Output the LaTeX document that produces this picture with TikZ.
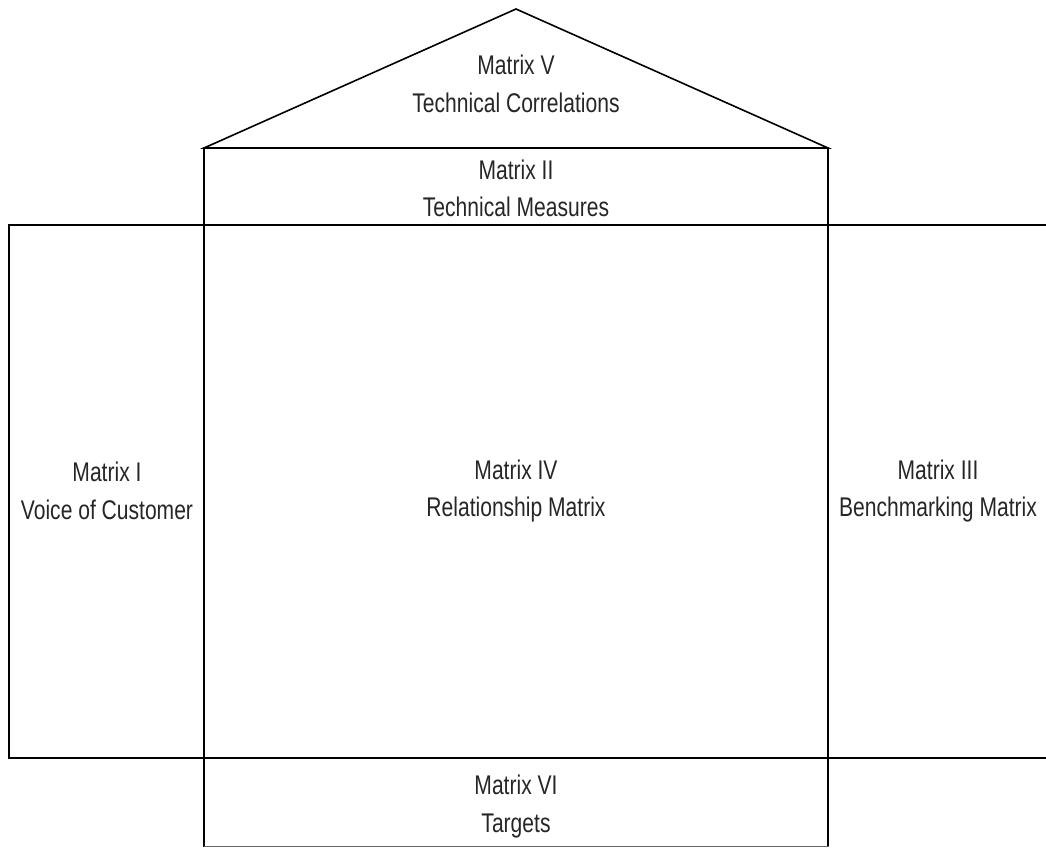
\documentclass[tikz,border=0pt]{standalone}
\usepackage{fontspec}
\newfontfamily\narrowf[FakeStretch=0.78]{Liberation Sans}
\tikzset{
  frame/.style={line width=1.6pt, line cap=rect, line join=miter},
  label/.style={font=\narrowf\fontsize{27}{37.5}\selectfont, align=center, inner sep=0pt, text=black!85}
}
\begin{document}
\begin{tikzpicture}[x=1pt,y=-1pt]
\useasboundingbox (0,0) rectangle (1046,847);
% coordinates
\coordinate (apex) at (516,9);
\coordinate (rl) at (204,148);
\coordinate (rr) at (828,148);
\coordinate (tl) at (204,225);
\coordinate (tr) at (828,225);
\coordinate (bl) at (204,758);
\coordinate (br) at (828,758);
\coordinate (ll) at (9,225);
\coordinate (llb) at (9,758);
\coordinate (rt) at (1046,225);
\coordinate (rb) at (1046,758);
\coordinate (fl) at (204,846);
\coordinate (fr) at (828,846);
% roof
\draw[frame] (rl) -- (apex) -- (rr) -- cycle;
% central columns
\draw[frame] (rl) -- (fl);
\draw[frame] (rr) -- (fr);
% horizontal lines
\draw[frame] (ll) -- (rt);
\draw[frame] (llb) -- (rb);
\draw[frame] (ll) -- (llb);
\draw[frame, line width=1pt, draw=black!60] (fl) -- (fr);
% labels
\node[label] (m5) at (516,84) {Matrix V\\Technical Correlations};
\node[label] (m2) at (516,188.5) {Matrix II\\Technical Measures};
\node[label] (m1) at (107,491) {Matrix I\\Voice of Customer};
\node[label] (m4) at (516,491) {Matrix IV\\Relationship Matrix};
\node[label] (m3) at (938,491) {Matrix III\\Benchmarking Matrix};
\node[label] (m6) at (516,806.5) {Matrix VI\\Targets};
\end{tikzpicture}
\end{document}
